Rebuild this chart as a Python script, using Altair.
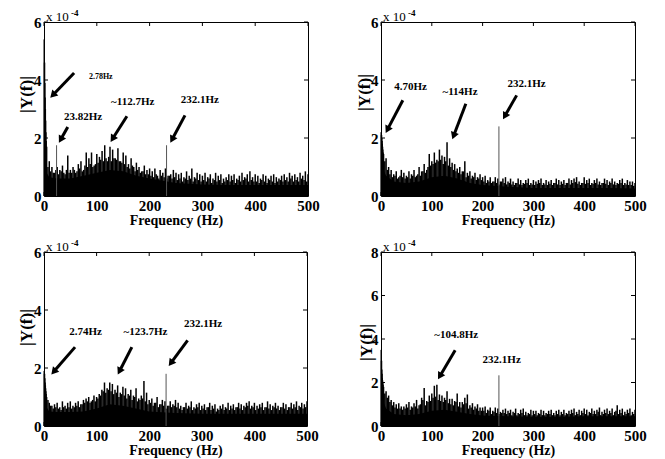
import math
import altair as alt
import pandas as pd

# ---------------- data (values in units of 1e-4) ----------------
GRID_F = list(range(5, 501, 5))
MID_F = [2.5 + 5 * i for i in range(1, 100)]
LOW_F = [0.5, 1, 1.5, 2, 2.5, 3, 3.5, 4]
FLOOR_F = [0, 5, 10, 25, 50, 75, 100, 125, 150, 175, 200, 250, 300, 350, 400, 450, 500]
X_TICKS = [0, 100, 200, 300, 400, 500]

# Panel 1 (top left)
P1_LOW = [5.4, 4.6, 3.9, 3.4, 3.0, 2.6, 2.2, 1.9]
P1_VALS = [1.7, 1.2, 1.0, 0.8, 1.0, 0.9, 1.05, 0.75, 1.4, 0.9,
           1.0, 0.8, 1.1, 1.2, 0.9, 1.5, 1.3, 1.5, 1.05, 1.45,
           1.35, 1.55, 1.75, 1.2, 1.7, 1.6, 1.3, 1.65, 1.2, 1.5,
           1.4, 1.1, 1.3, 1.0, 1.15, 1.0, 0.85, 1.05, 0.9, 0.95,
           0.85, 0.95, 0.7, 0.9, 0.8, 0.95, 0.7, 0.75, 0.9, 0.8,
           0.75, 0.8, 0.65, 0.85, 0.7, 0.95, 0.65, 0.8, 0.75, 0.7,
           0.8, 0.65, 0.75, 0.6, 0.8, 0.7, 0.75, 0.6, 0.65, 0.75,
           0.7, 0.75, 0.6, 0.7, 0.8, 0.65, 0.75, 0.85, 0.65, 0.75,
           0.7, 0.6, 0.75, 0.7, 0.6, 0.7, 0.75, 0.65, 0.6, 0.7,
           0.75, 0.65, 0.8, 0.7, 0.75, 0.65, 0.8, 0.7, 0.85, 0.75]
P1_MID = [1.0, 0.85, 0.8, 0.9, 0.75, 0.85, 0.8, 0.9, 0.8,
          0.8, 0.9, 0.85, 0.95, 0.85, 1.05, 1.0, 1.1, 1.0, 1.1,
          1.15, 1.25, 1.2, 1.3, 1.35, 1.2, 1.3, 1.25, 1.2, 1.15,
          1.1, 1.0, 0.95, 1.05, 0.85, 0.9, 0.8, 0.85, 0.75, 0.75,
          0.7, 0.65, 0.75, 0.6, 0.7, 0.65, 0.6, 0.7, 0.6, 0.65,
          0.55, 0.6, 0.5, 0.6, 0.55, 0.6, 0.5, 0.6, 0.55, 0.5,
          0.55, 0.5, 0.6, 0.45, 0.55, 0.5, 0.55, 0.45, 0.5, 0.55,
          0.5, 0.55, 0.45, 0.55, 0.5, 0.55, 0.6, 0.5, 0.55, 0.5,
          0.5, 0.45, 0.55, 0.5, 0.45, 0.55, 0.5, 0.45, 0.5, 0.55,
          0.5, 0.55, 0.5, 0.6, 0.5, 0.55, 0.5, 0.6, 0.55, 0.5]
P1_FLOOR = [2.0, 0.8, 0.65, 0.6, 0.6, 0.7, 0.8, 0.9, 0.85, 0.7, 0.6, 0.45, 0.4, 0.38, 0.38, 0.38, 0.38]
P1_PEAK_F = [23.82, 232.1]
P1_PEAK_V = [1.75, 1.75]
P1_LABELS = ["2.78Hz", "23.82Hz", "~112.7Hz", "232.1Hz"]
P1_LABEL_F = [85, 38, 127, 259]
P1_LABEL_V = [4.1, 2.72, 3.24, 3.3]
P1_LABEL_SIZE = [8, 11, 11, 11]
P1_TAIL_F = [57, 45, 157, 267]
P1_TAIL_V = [4.24, 2.38, 2.75, 2.78]
P1_TIP_F = [13, 29, 127, 240]
P1_TIP_V = [3.41, 1.86, 1.89, 1.86]

# Panel 2 (top right)
P2_LOW = [2.2, 2.1, 2.0, 1.9, 1.8, 1.7, 1.6, 1.5]
P2_VALS = [1.45, 1.3, 1.0, 0.9, 0.75, 0.85, 0.65, 0.9, 0.8, 0.7,
           0.85, 0.75, 0.9, 0.7, 1.0, 0.85, 1.1, 0.9, 1.45, 1.2,
           1.5, 1.25, 1.6, 1.4, 1.35, 1.85, 1.3, 1.15, 1.1, 0.95,
           1.0, 0.85, 1.2, 0.8, 0.85, 0.7, 0.8, 0.65, 0.75, 0.65,
           0.7, 0.55, 0.65, 0.5, 0.65, 0.6, 0.5, 0.6, 0.65, 0.5,
           0.6, 0.5, 0.45, 0.6, 0.55, 0.45, 0.55, 0.6, 0.45, 0.55,
           0.5, 0.55, 0.6, 0.45, 0.55, 0.5, 0.55, 0.45, 0.6, 0.55,
           0.5, 0.55, 0.45, 0.6, 0.55, 0.6, 0.65, 0.5, 0.45, 0.65,
           0.55, 0.6, 0.45, 0.55, 0.6, 0.5, 0.45, 0.6, 0.55, 0.5,
           0.6, 0.5, 0.45, 0.55, 0.6, 0.45, 0.55, 0.5, 0.5, 0.45]
P2_MID = [1.2, 0.9, 0.75, 0.65, 0.7, 0.6, 0.7, 0.65, 0.6,
          0.65, 0.6, 0.7, 0.65, 0.75, 0.7, 0.85, 0.8, 1.0, 1.05,
          1.1, 1.15, 1.2, 1.25, 1.1, 1.2, 1.05, 1.0, 0.9, 0.85,
          0.8, 0.75, 0.85, 0.65, 0.7, 0.6, 0.65, 0.55, 0.6, 0.55,
          0.5, 0.45, 0.5, 0.45, 0.5, 0.45, 0.4, 0.5, 0.45, 0.4,
          0.45, 0.4, 0.38, 0.45, 0.4, 0.38, 0.42, 0.45, 0.38, 0.4,
          0.38, 0.42, 0.45, 0.38, 0.4, 0.38, 0.42, 0.38, 0.45, 0.4,
          0.38, 0.42, 0.38, 0.45, 0.4, 0.45, 0.48, 0.42, 0.38, 0.45,
          0.42, 0.45, 0.38, 0.42, 0.45, 0.4, 0.38, 0.45, 0.42, 0.38,
          0.45, 0.4, 0.38, 0.42, 0.45, 0.38, 0.4, 0.38, 0.38, 0.35]
P2_FLOOR = [1.8, 0.9, 0.7, 0.5, 0.45, 0.5, 0.65, 0.7, 0.6, 0.45, 0.38, 0.32, 0.28, 0.28, 0.28, 0.28, 0.26]
P2_PEAK_F = [232.1]
P2_PEAK_V = [2.4]
P2_LABELS = ["4.70Hz", "~114Hz", "232.1Hz"]
P2_LABEL_F = [26, 121, 249]
P2_LABEL_V = [3.76, 3.59, 3.87]
P2_LABEL_SIZE = [11, 11, 11]
P2_TAIL_F = [43, 167, 267]
P2_TAIL_V = [3.3, 3.18, 3.47]
P2_TIP_F = [10, 141, 241]
P2_TIP_V = [2.2, 1.98, 2.67]

# Panel 3 (bottom left)
P3_LOW = [1.9, 1.8, 1.65, 1.5, 1.4, 1.3, 1.2, 1.1]
P3_VALS = [1.0, 0.8, 0.7, 0.75, 0.8, 0.65, 0.85, 0.7, 0.8, 0.85,
           0.7, 0.8, 0.85, 0.75, 0.9, 0.95, 1.0, 0.85, 1.05, 1.0,
           1.1, 1.25, 1.5, 1.3, 1.5, 1.45, 1.25, 1.4, 1.15, 1.35,
           1.3, 1.1, 1.25, 1.05, 1.3, 0.95, 1.05, 1.55, 1.15, 0.9,
           0.95, 0.8, 1.0, 0.75, 0.9, 0.85, 0.7, 0.85, 0.75, 0.9,
           0.8, 0.7, 0.65, 0.8, 0.7, 0.85, 0.65, 0.75, 0.8, 0.7,
           0.75, 0.65, 0.8, 0.7, 0.75, 0.6, 0.7, 0.75, 0.65, 0.8,
           0.7, 0.75, 0.65, 0.8, 0.75, 0.7, 0.8, 0.85, 0.7, 0.8,
           0.7, 0.75, 0.8, 0.65, 0.85, 0.75, 0.7, 0.8, 0.7, 0.65,
           0.8, 0.75, 0.65, 0.8, 0.75, 0.85, 0.7, 0.8, 0.75, 0.85]
P3_MID = [0.9, 0.7, 0.6, 0.65, 0.6, 0.55, 0.65, 0.6, 0.65,
          0.6, 0.65, 0.7, 0.65, 0.75, 0.8, 0.85, 0.8, 0.9, 0.85,
          0.95, 1.05, 1.2, 1.15, 1.25, 1.2, 1.1, 1.15, 1.0, 1.1,
          1.05, 0.95, 1.05, 0.9, 1.0, 0.85, 0.9, 0.95, 0.85, 0.75,
          0.8, 0.7, 0.8, 0.65, 0.75, 0.7, 0.6, 0.7, 0.65, 0.7,
          0.65, 0.6, 0.55, 0.65, 0.6, 0.65, 0.55, 0.6, 0.65, 0.55,
          0.6, 0.55, 0.65, 0.55, 0.6, 0.5, 0.55, 0.6, 0.55, 0.6,
          0.55, 0.6, 0.55, 0.65, 0.6, 0.55, 0.65, 0.7, 0.6, 0.65,
          0.55, 0.6, 0.65, 0.55, 0.65, 0.6, 0.55, 0.65, 0.6, 0.55,
          0.65, 0.6, 0.55, 0.65, 0.6, 0.65, 0.55, 0.65, 0.6, 0.65]
P3_FLOOR = [1.6, 0.65, 0.5, 0.48, 0.48, 0.5, 0.6, 0.75, 0.7, 0.6, 0.5, 0.45, 0.42, 0.42, 0.42, 0.42, 0.42]
P3_PEAK_F = [232.1]
P3_PEAK_V = [1.8]
P3_LABELS = ["2.74Hz", "~123.7Hz", "232.1Hz"]
P3_LABEL_F = [48, 151, 266]
P3_LABEL_V = [3.24, 3.24, 3.53]
P3_LABEL_SIZE = [11, 11, 11]
P3_TAIL_F = [59, 167, 273]
P3_TAIL_V = [2.72, 2.72, 2.95]
P3_TIP_F = [15, 141, 238]
P3_TIP_V = [1.8, 1.8, 2.09]

# Panel 4 (bottom right)
P4_LOW = [3.5, 3.0, 2.6, 2.4, 2.2, 2.1, 2.0, 1.9]
P4_VALS = [1.8, 1.6, 1.4, 1.2, 1.1, 1.0, 1.05, 0.9, 0.9, 1.0,
           1.1, 0.9, 1.05, 1.2, 0.95, 1.3, 1.75, 1.15, 1.4, 1.5,
           1.85, 1.9, 1.45, 1.4, 1.3, 1.6, 1.25, 1.25, 1.15, 1.5,
           1.1, 1.1, 1.3, 1.45, 0.95, 1.05, 0.9, 1.0, 0.85, 0.85,
           0.9, 0.75, 0.85, 0.7, 0.85, 0.8, 0.65, 0.75, 0.8, 0.7,
           0.75, 0.65, 0.8, 0.6, 0.75, 0.8, 0.65, 0.6, 0.75, 0.7,
           0.7, 0.6, 0.75, 0.7, 0.6, 0.7, 0.75, 0.6, 0.7, 0.75,
           0.65, 0.75, 0.6, 0.7, 0.75, 0.8, 0.65, 0.75, 0.7, 0.8,
           0.75, 0.65, 0.8, 0.7, 0.75, 0.85, 0.65, 0.75, 0.8, 0.7,
           0.8, 0.65, 0.95, 0.75, 0.8, 0.65, 0.75, 0.8, 0.65, 0.75]
P4_MID = [1.5, 1.3, 1.1, 0.95, 0.85, 0.8, 0.8, 0.75, 0.8,
          0.85, 0.75, 0.85, 0.9, 0.8, 1.0, 1.2, 0.95, 1.1, 1.15,
          1.3, 1.35, 1.2, 1.15, 1.1, 1.2, 1.05, 1.0, 0.95, 1.1,
          0.9, 0.85, 1.0, 1.05, 0.8, 0.85, 0.75, 0.8, 0.7, 0.7,
          0.7, 0.6, 0.7, 0.55, 0.65, 0.6, 0.55, 0.6, 0.6, 0.55,
          0.6, 0.5, 0.6, 0.5, 0.55, 0.6, 0.5, 0.5, 0.55, 0.5,
          0.55, 0.5, 0.55, 0.5, 0.5, 0.55, 0.55, 0.5, 0.5, 0.55,
          0.5, 0.55, 0.5, 0.55, 0.55, 0.6, 0.5, 0.55, 0.5, 0.6,
          0.55, 0.5, 0.6, 0.55, 0.55, 0.65, 0.5, 0.55, 0.6, 0.55,
          0.6, 0.5, 0.7, 0.55, 0.6, 0.5, 0.55, 0.6, 0.5, 0.55]
P4_FLOOR = [3.0, 1.1, 0.8, 0.55, 0.5, 0.55, 0.7, 0.75, 0.65, 0.55, 0.48, 0.45, 0.42, 0.42, 0.45, 0.45, 0.45]
P4_PEAK_F = [232.1]
P4_PEAK_V = [2.33]
P4_LABELS = ["~104.8Hz", "232.1Hz"]
P4_LABEL_F = [105, 200]
P4_LABEL_V = [4.17, 3.02]
P4_LABEL_SIZE = [11, 11]
P4_TAIL_F = [146]
P4_TAIL_V = [3.48]
P4_TIP_F = [113]
P4_TIP_V = [2.18]

FONT = "Liberation Serif"


def panel(low, vals, mid, floor, peak_f, peak_v, labels, label_f, label_v, label_size,
          tail_f, tail_v, tip_f, tip_v, ymax, y_ticks, W, H, title_x, title_y):
    xs = alt.Scale(domain=[0, 500], nice=False, zero=False)
    ys = alt.Scale(domain=[0, ymax], nice=False)
    xaxis = alt.Axis(values=X_TICKS, title="Frequency (Hz)", ticks=False, grid=False,
                     domain=False, labelPadding=2, titlePadding=0, format="d",
                     labelFlush=False)
    yaxis = alt.Axis(values=y_ticks, title="|Y(f)|", ticks=False, grid=False,
                     domain=False, labelPadding=3, format="d",
                     titleX=title_x, titleY=title_y, titleAlign="center",
                     titleBaseline="middle", titleAngle=270, titleFontSize=17)

    def X(field="f"):
        return alt.X(f"{field}:Q", scale=xs, axis=xaxis)

    def Y(field="v"):
        return alt.Y(f"{field}:Q", scale=ys, axis=yaxis)

    floor_df = pd.DataFrame({"f": FLOOR_F, "v": floor})
    stems_df = pd.DataFrame({"f": LOW_F + GRID_F + MID_F, "v": low + vals + mid})
    stems_df["v0"] = 0.0
    peaks_df = pd.DataFrame({"f": peak_f, "v": peak_v})
    peaks_df["v0"] = 0.0

    area = alt.Chart(floor_df).mark_area(color="black", interpolate="linear").encode(
        x=X(), y=Y())
    stems = alt.Chart(stems_df).mark_rule(color="black", strokeWidth=1.5).encode(
        x=X(), y=Y(), y2="v0:Q")
    peaks = alt.Chart(peaks_df).mark_rule(color="#555555", strokeWidth=1).encode(
        x=X(), y=Y(), y2="v0:Q")

    xt = pd.DataFrame({"f": X_TICKS})
    yt = pd.DataFrame({"v": y_ticks})
    tick_b = alt.Chart(xt).mark_rule(color="black").encode(
        x=X(), y=alt.value(H), y2=alt.value(H - 4))
    tick_t = alt.Chart(xt).mark_rule(color="black").encode(
        x=X(), y=alt.value(0), y2=alt.value(4))
    tick_l = alt.Chart(yt).mark_rule(color="black").encode(
        y=Y(), x=alt.value(0), x2=alt.value(4))
    tick_r = alt.Chart(yt).mark_rule(color="black").encode(
        y=Y(), x=alt.value(W), x2=alt.value(W - 4))

    # arrows
    sx = W / 500.0
    sy = H / ymax
    rows = []
    for tf, tv, pf, pv in zip(tail_f, tail_v, tip_f, tip_v):
        dx = (pf - tf) * sx
        dy = (pv - tv) * sy  # upward positive
        L = math.hypot(dx, dy)
        ux, uy = dx / L, dy / L
        back = 4.0
        hf = pf - ux * back / sx
        hv = pv - uy * back / sy
        ang = math.degrees(math.atan2(dx, dy)) % 360
        rows.append({"f": tf, "v": tv, "f2": hf, "v2": hv, "hf": hf, "hv": hv, "ang": ang})
    arr_df = pd.DataFrame(rows)
    layers = [area, stems, peaks, tick_b, tick_t, tick_l, tick_r]
    if len(rows):
        shaft = alt.Chart(arr_df).mark_rule(color="black", strokeWidth=3).encode(
            x=X(), y=Y(), x2="f2:Q", y2="v2:Q")
        head = alt.Chart(arr_df).mark_point(shape="triangle", filled=True, color="black",
                                            size=70, opacity=1).encode(
            x=alt.X("hf:Q", scale=xs, axis=xaxis), y=alt.Y("hv:Q", scale=ys, axis=yaxis),
            angle=alt.Angle("ang:Q", scale=None))
        layers += [shaft, head]

    lab_df = pd.DataFrame({"f": label_f, "v": label_v, "t": labels, "s": label_size})
    txt = alt.Chart(lab_df).mark_text(align="left", baseline="middle", font=FONT,
                                      fontWeight="bold", color="black").encode(
        x=X(), y=Y(), text="t:N", size=alt.Size("s:Q", scale=None))
    layers.append(txt)

    exp_df = pd.DataFrame({"t": ["x 10"], "e": ["-4"]})
    exp1 = alt.Chart(exp_df).mark_text(align="left", baseline="alphabetic", font=FONT,
                                       fontSize=13, color="black").encode(
        x=alt.value(2), y=alt.value(-1), text="t:N")
    exp2 = alt.Chart(exp_df).mark_text(align="left", baseline="alphabetic", font=FONT,
                                       fontSize=9, fontWeight="bold", color="black").encode(
        x=alt.value(27), y=alt.value(-6), text="e:N")
    layers += [exp1, exp2]

    return alt.layer(*layers).properties(width=W, height=H)


H = 174
p1 = panel(P1_LOW, P1_VALS, P1_MID, P1_FLOOR, P1_PEAK_F, P1_PEAK_V, P1_LABELS, P1_LABEL_F,
           P1_LABEL_V, P1_LABEL_SIZE, P1_TAIL_F, P1_TAIL_V, P1_TIP_F, P1_TIP_V,
           6, [0, 2, 4, 6], 264, H, -18, 72)
p2 = panel(P2_LOW, P2_VALS, P2_MID, P2_FLOOR, P2_PEAK_F, P2_PEAK_V, P2_LABELS, P2_LABEL_F,
           P2_LABEL_V, P2_LABEL_SIZE, P2_TAIL_F, P2_TAIL_V, P2_TIP_F, P2_TIP_V,
           6, [0, 2, 4, 6], 254, H, -17, 70)
p3 = panel(P3_LOW, P3_VALS, P3_MID, P3_FLOOR, P3_PEAK_F, P3_PEAK_V, P3_LABELS, P3_LABEL_F,
           P3_LABEL_V, P3_LABEL_SIZE, P3_TAIL_F, P3_TAIL_V, P3_TIP_F, P3_TIP_V,
           6, [0, 2, 4, 6], 263, H, -18, 75)
p4 = panel(P4_LOW, P4_VALS, P4_MID, P4_FLOOR, P4_PEAK_F, P4_PEAK_V, P4_LABELS, P4_LABEL_F,
           P4_LABEL_V, P4_LABEL_SIZE, P4_TAIL_F, P4_TAIL_V, P4_TIP_F, P4_TIP_V,
           8, [0, 2, 4, 6, 8], 254, H, -15, 90)

chart = alt.concat(p1, p2, p3, p4, columns=2, spacing={"row": 56, "column": 73},
                   bounds="flush").properties(
    padding={"left": 8, "top": 0, "right": 5, "bottom": 2},
    background="white"
).configure_view(stroke="black", strokeWidth=1).configure_axis(
    labelFont=FONT, labelFontWeight="bold", labelFontSize=15, labelColor="black",
    titleFont=FONT, titleFontWeight="bold", titleFontSize=14, titleColor="black"
)

chart.save("out.html", embed_options={"renderer": "svg", "actions": False})
